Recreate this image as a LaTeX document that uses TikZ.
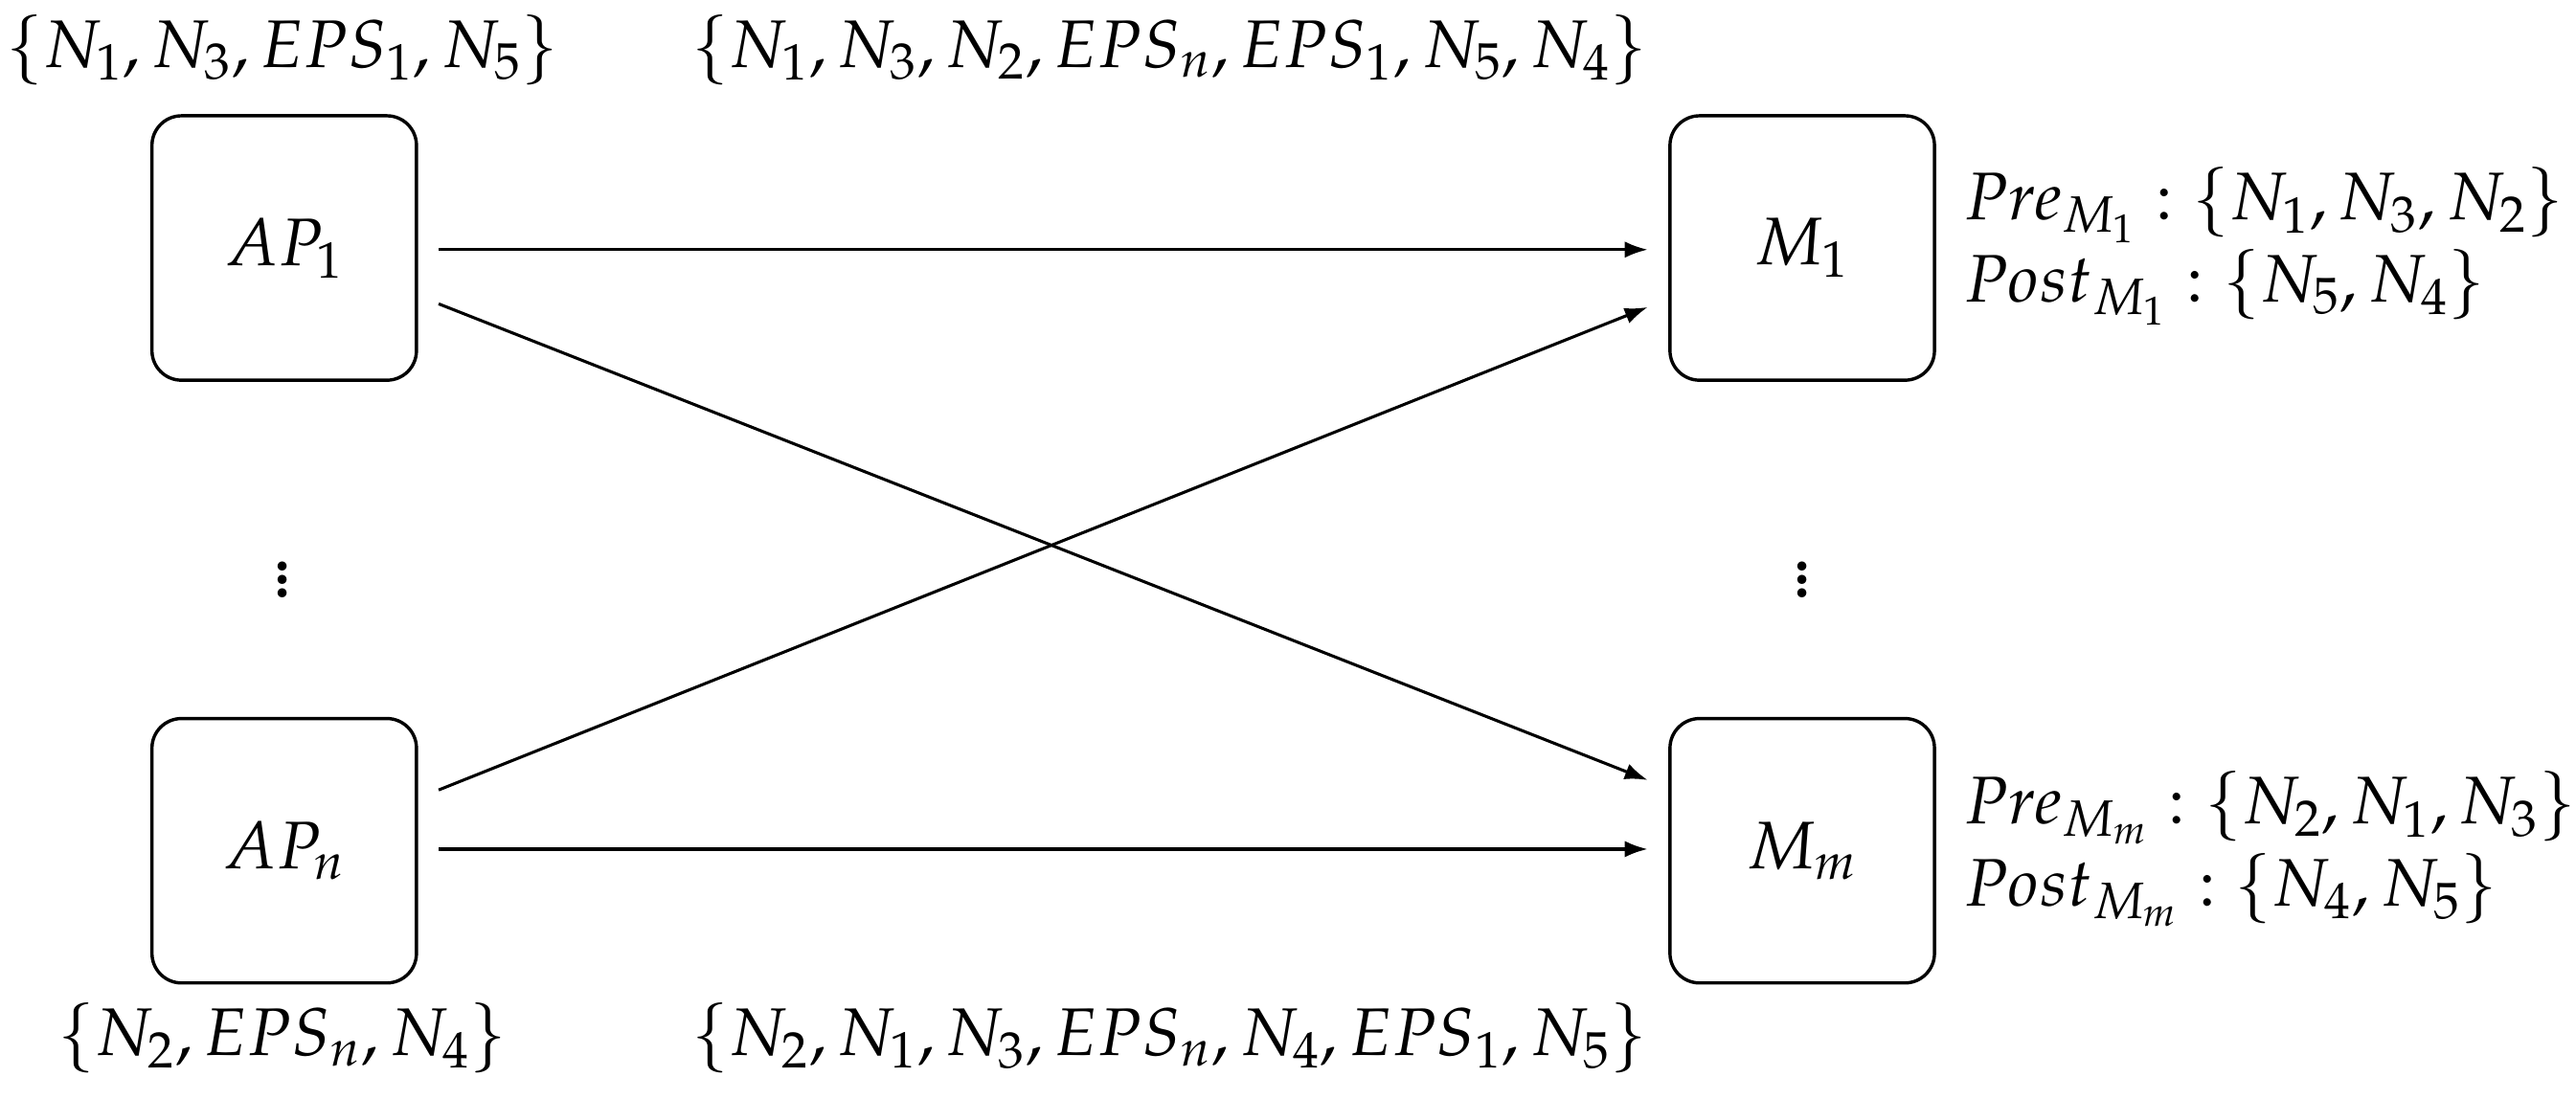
\documentclass[tikz,border=0pt]{standalone}
\usepackage{mathpazo}
\usetikzlibrary{arrows.meta}
\begin{document}
\begin{tikzpicture}[x=0.5pt,y=-0.5pt,
  box/.style={draw,line width=1pt,rounded corners=9pt,minimum width=80.5pt,minimum height=80.5pt,inner sep=0pt},
  lab/.style={font=\fontsize{20.5}{25}\selectfont},
  dots/.style={font=\fontsize{34}{40}\selectfont,inner sep=0pt},
  arr/.style={-{Latex[length=7pt,width=5pt]},line width=0.9pt}]
\useasboundingbox (0,0) rectangle (1568,669);
\node[box,lab] (A1) at (173,151) {$AP_1$};
\node[box,lab] (An) at (173,518) {$AP_n$};
\node[box,lab] (M1) at (1097,151) {$M_1$};
\node[box,lab] (Mm) at (1097,518) {$M_m$};
\coordinate (a1r) at (267,185);
\coordinate (mmi) at (1003,475);
\coordinate (anr) at (267,481);
\coordinate (m1i) at (1003,187);
\draw[arr] (267,152) -- (1003,152);
\draw[arr] (a1r) -- (mmi);
\draw[arr] (anr) -- (m1i);
\draw[arr] (267,517) -- (1003,517);
\node[lab] (t1) at (172,30) {$\{N_1,N_3,EPS_1,N_5\}$};
\node[lab] (t2) at (712,30) {$\{N_1,N_3,N_2,EPS_n,EPS_1,N_5,N_4\}$};
\node[lab] (b1) at (172,632) {$\{N_2,EPS_n,N_4\}$};
\node[lab] (b2) at (712,632) {$\{N_2,N_1,N_3,EPS_n,N_4,EPS_1,N_5\}$};
\node[lab,anchor=west,align=left,inner sep=0pt] (r1) at (1195,150) {$Pre_{M_1}:\{N_1,N_3,N_2\}$\\$Post_{M_1}:\{N_5,N_4\}$};
\node[lab,anchor=west,align=left,inner sep=0pt] (r2) at (1195,517) {$Pre_{M_m}:\{N_2,N_1,N_3\}$\\$Post_{M_m}:\{N_4,N_5\}$};
\node[dots] (v1) at (172,347) {$\vdots$};
\node[dots] (v2) at (1097,347) {$\vdots$};
\end{tikzpicture}
\end{document}
